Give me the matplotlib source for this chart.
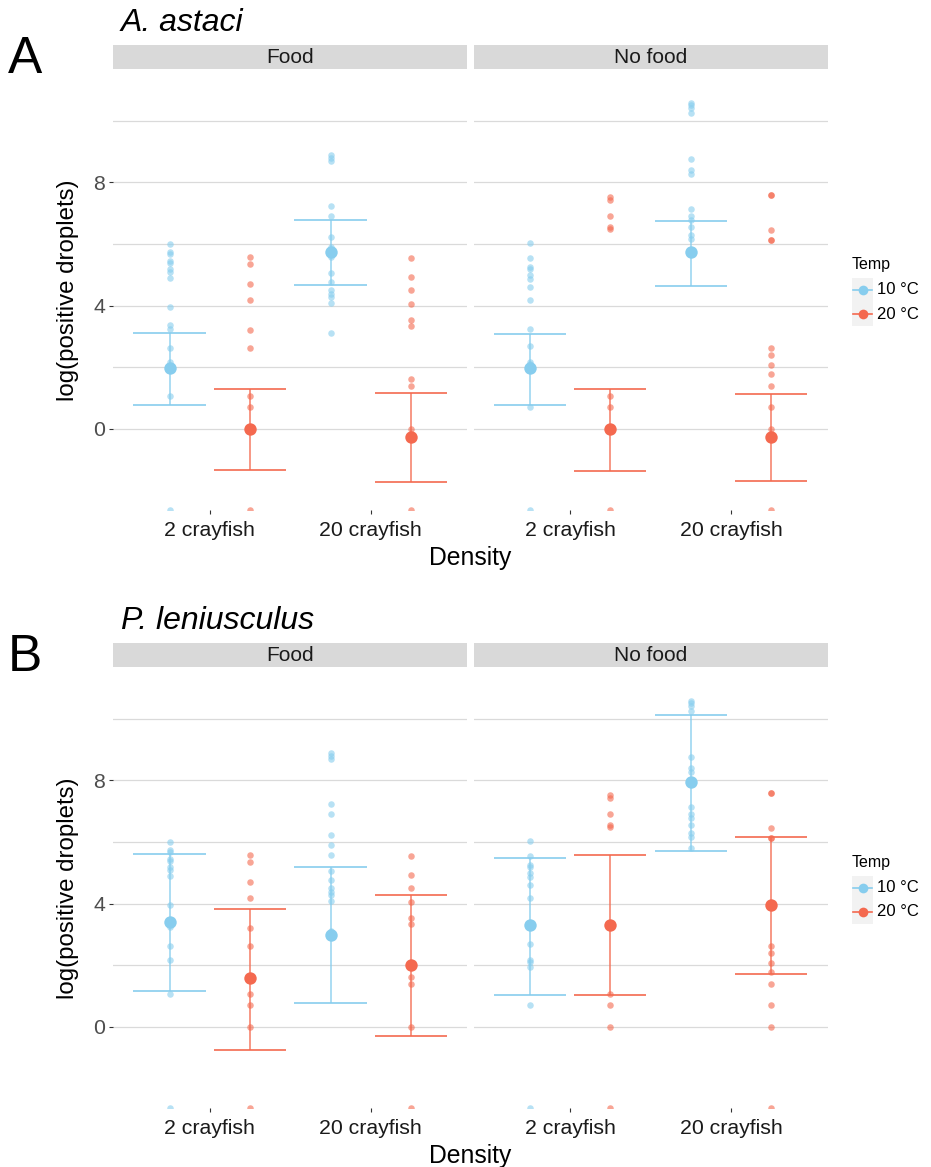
import numpy as np
import matplotlib
matplotlib.use('Agg')
from matplotlib import pyplot as plt
from matplotlib.lines import Line2D
from matplotlib.patches import Rectangle

plt.rcParams['font.family'] = ['Liberation Sans', 'DejaVu Sans']

foods = ['Food', 'No food']
densities = ['2 crayfish', '20 crayfish']
temps = ['10 °C', '20 °C']
colors = ['#87CDEE', '#F4694F']

NEG = -np.inf   # log(0) -> drawn on the lower panel edge

# raw log(positive droplets), one list per food / density / temp
food_2_10 = [6.0, 5.75, 5.67, 5.43, 5.37, 5.19, 5.1, 4.89, 3.95, 3.36, 3.23, 2.64, 2.18, 1.08, NEG]
food_2_20 = [5.58, 5.34, 4.71, 4.19, 3.2, 2.64, 1.08, 0.7, 0.0, NEG]
food_20_10 = [8.89, 8.8, 8.69, 7.23, 6.92, 6.23, 5.91, 5.57, 5.05, 4.75, 4.51, 4.38, 4.27, 4.08, 3.12]
food_20_20 = [5.54, 4.92, 4.5, 4.05, 3.53, 3.33, 1.61, 1.39, 0.0, NEG]
nofood_2_10 = [6.02, 5.54, 5.26, 5.19, 4.98, 4.85, 4.6, 4.19, 3.25, 2.7, 2.18, 2.11, 1.95, 0.7, NEG]
nofood_2_20 = [7.51, 7.44, 6.89, 6.54, 6.48, 1.08, 0.7, 0.0, NEG]
nofood_20_10 = [10.56, 10.49, 10.41, 10.25, 8.75, 8.4, 8.27, 7.12, 6.89, 6.77, 6.54, 6.28, 6.16, 5.81]
nofood_20_20 = [7.59, 7.59, 6.44, 6.14, 6.12, 2.64, 2.39, 2.08, 1.77, 1.39, 0.7, 0.0, NEG]

raw = {'Food': [food_2_10, food_2_20, food_20_10, food_20_20],
       'No food': [nofood_2_10, nofood_2_20, nofood_20_10, nofood_20_20]}

# model estimates, order: 2 cf 10C, 2 cf 20C, 20 cf 10C, 20 cf 20C
astaci_est = {'Food': [1.97, 0.0, 5.73, -0.25], 'No food': [1.97, 0.0, 5.73, -0.26]}
astaci_lo = {'Food': [0.78, -1.33, 4.68, -1.72], 'No food': [0.78, -1.36, 4.64, -1.69]}
astaci_hi = {'Food': [3.12, 1.29, 6.79, 1.18], 'No food': [3.08, 1.29, 6.75, 1.12]}

leni_est = {'Food': [3.41, 1.57, 2.98, 2.02], 'No food': [3.30, 3.30, 7.94, 3.95]}
leni_lo = {'Food': [1.18, -0.76, 0.76, -0.28], 'No food': [1.04, 1.04, 5.70, 1.73]}
leni_hi = {'Food': [5.60, 3.84, 5.19, 4.29], 'No food': [5.49, 5.57, 10.10, 6.16]}

W, H = 931, 1167
YLIM = (-2.63, 11.64)
XLIM = (0.4, 2.6)
dodge = [-0.25, 0.25]

fig = plt.figure(figsize=(W/100, H/100), dpi=100)


def fx(px):
    return px / W


def fy(px):
    return 1 - px / H


#--------------------------------------------------------------------------------
def draw_panel(top, letter, title, est, lo, hi):
    lefts = [113.3, 473.5]
    width = 354
    for j, food in enumerate(foods):
        ax = fig.add_axes([fx(lefts[j]), fy(top + 440), fx(width), 440 / H])
        for d in range(2):
            for t in range(2):
                k = d*2 + t
                x = d + 1 + dodge[t]
                vals = np.array(raw[food][k])
                yv = np.where(np.isinf(vals), YLIM[0], vals)
                ax.scatter(np.full(len(yv), x), yv, s=22, color=colors[t],
                           alpha=0.6, lw=0, zorder=3)
                ax.vlines(x, lo[food][k], hi[food][k], color=colors[t], lw=1.3,
                          alpha=0.75, zorder=4)
                ax.hlines([lo[food][k], hi[food][k]], x - 0.225, x + 0.225,
                          color=colors[t], lw=1.2, zorder=4)
                ax.scatter([x], [est[food][k]], s=80, color=colors[t], lw=0, zorder=5)

        ax.set_xlim(XLIM)
        ax.set_ylim(YLIM)
        ax.set_facecolor('white')
        for s in ax.spines.values():
            s.set_visible(False)
        ax.set_yticks([0, 4, 8])
        ax.set_yticks([2, 6, 10], minor=True)
        ax.grid(True, axis='y', which='both', color='#DADADA', lw=0.9)
        ax.set_axisbelow(True)
        ax.set_xticks([1, 2])
        ax.set_xticklabels(densities, fontsize=15.3, color='#1A1A1A')
        ax.tick_params(axis='x', length=3, width=0.8, color='#333333', pad=5)
        ax.tick_params(axis='y', which='minor', length=0)
        if j == 0:
            ax.tick_params(axis='y', which='major', length=3, width=0.8,
                           color='#333333', labelsize=15.3, labelcolor='#4D4D4D', pad=3)
        else:
            ax.tick_params(axis='y', which='major', length=0, labelleft=False)

        # facet strip
        sax = fig.add_axes([fx(lefts[j]), fy(top - 1), fx(width), 24.5 / H])
        sax.set_facecolor('#D9D9D9')
        sax.set_xticks([])
        sax.set_yticks([])
        for s in sax.spines.values():
            s.set_visible(False)
        sax.text(0.5, 0.45, food, ha='center', va='center', fontsize=15, color='#1A1A1A',
                 transform=sax.transAxes)

    fig.text(fx(8), fy(top + 2.7), letter, fontsize=37, ha='left', va='baseline')
    fig.text(fx(121), fy(top - 39), title, fontsize=23, style='italic',
             ha='left', va='baseline')
    fig.text(fx(470.5), fy(top + 495), 'Density', fontsize=17.8, ha='center', va='baseline')
    fig.text(fx(68), fy(top + 220), 'log(positive droplets)', fontsize=17.3,
             rotation=90, ha='center', va='center')

    # legend
    fig.text(fx(852), fy(top + 199), 'Temp', fontsize=11.5, ha='left', va='baseline')
    fig.patches.append(Rectangle((fx(852), fy(top + 256)), fx(21), 48 / H,
                                 transform=fig.transFigure, facecolor='#F2F2F2',
                                 edgecolor='none'))
    for t in range(2):
        yc = fy(top + 220 + 24*t)
        fig.add_artist(Line2D([fx(853), fx(872)], [yc, yc], color=colors[t], lw=1.2,
                              transform=fig.transFigure))
        fig.add_artist(Line2D([fx(862.5)], [yc], marker='o', markersize=7,
                              color=colors[t], markeredgewidth=0,
                              transform=fig.transFigure))
        fig.text(fx(877), yc, temps[t], fontsize=12, ha='left', va='center')


draw_panel(70, 'A', 'A. astaci', astaci_est, astaci_lo, astaci_hi)
draw_panel(668, 'B', 'P. leniusculus', leni_est, leni_lo, leni_hi)

fig.savefig('out.png', dpi=100)
